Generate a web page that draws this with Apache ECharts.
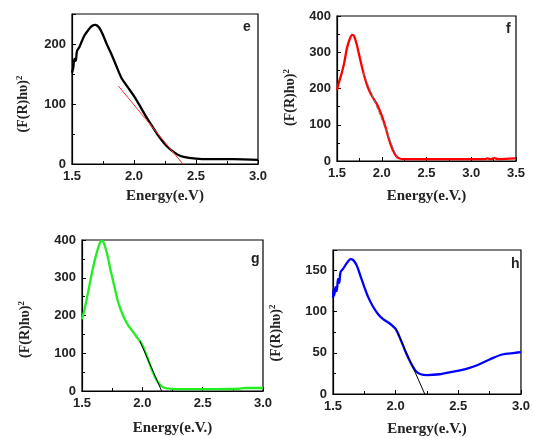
<!DOCTYPE html>
<html><head><meta charset="utf-8">
<script src="https://cdn.jsdelivr.net/npm/echarts@6/dist/echarts.min.js"></script>
<style>html,body{margin:0;padding:0;background:#fff}#c{width:533px;height:438px}</style>
</head><body><div id="c"></div>
<script>
// Panel e
const eX = [1.50,1.51,1.52,1.53,1.54,1.56,1.58,1.60,1.63,1.66,1.69,1.72,1.75,1.78,1.82,1.86,1.90,1.95,2.00,2.05,2.10,2.15,2.20,2.25,2.30,2.35,2.40,2.50,2.60,2.80,3.00];
const eY = [152,160,175,172,188,195,205,214,223,230,232,227,215,200,182,162,143,128,113,96,78,62,46,33,23,16,12,9,8,8,7];
const eFitX = [1.874,2.394];
const eFitY = [130,0];
// Panel f
const fX = [1.50,1.52,1.55,1.58,1.61,1.64,1.67,1.69,1.72,1.75,1.78,1.81,1.85,1.90,1.95,2.00,2.04,2.08,2.12,2.16,2.20,2.25,2.50,3.00,3.15,3.18,3.22,3.26,3.30,3.50];
const fY = [195,215,240,270,310,335,348,345,322,290,258,230,200,175,155,125,95,60,32,14,7,5,5,5,5,7,5,8,5,7];
const fFitX = [1.79,2.17];
const fFitY = [245,10];
// Panel g
const gX = [1.50,1.52,1.55,1.58,1.61,1.64,1.66,1.68,1.71,1.74,1.77,1.80,1.84,1.88,1.92,1.96,2.00,2.04,2.08,2.12,2.16,2.20,2.30,2.60,2.80,2.85,3.00];
const gY = [190,215,260,310,352,385,398,393,360,315,275,235,200,175,158,140,122,90,55,28,12,7,5,5,6,8,8];
const gFitX = [1.98,2.16];
const gFitY = [132,0];
// Panel h
const hX = [1.50,1.505,1.51,1.52,1.53,1.54,1.55,1.56,1.58,1.61,1.64,1.66,1.69,1.72,1.75,1.78,1.82,1.86,1.90,1.95,2.00,2.04,2.08,2.12,2.16,2.20,2.25,2.35,2.45,2.55,2.65,2.75,2.85,2.95,3.00];
const hY = [117,128,120,130,125,140,135,148,152,159,164,163,156,143,130,118,106,97,91,86,79,66,51,38,28,24,23,24,27,30,35,42,48,50,51];
const hFitX = [2.0,2.232];
const hFitY = [80,0];

const xNames = ['Energy(e.V)','Energy(e.V.)','Energy(e.V.)','Energy(e.V.)'];
const letters = ['e','f','g','h'];

const pair = (xs, ys) => xs.map((x, i) => [x, ys[i]]);

const grids = [
  {left:72, right:275, top:14, bottom:274},
  {left:337, right:17, top:16, bottom:277},
  {left:82, right:270, top:240, bottom:47},
  {left:333, right:12, top:250, bottom:42}
].map(g => Object.assign(g, {show:true, borderColor:'#000', borderWidth:1.2, backgroundColor:'transparent'}));

const xr = [[1.5,3.0],[1.5,3.5],[1.5,3.0],[1.5,3.0]];
const yr = [[0,250,100],[0,400,100],[0,400,100],[0,175,50]];
const xGap = [25,28,30,28];
const yGap = [40,38,48,48];
const yShift = [30,18,28,22];

const lbl = {fontFamily:'Liberation Sans, Arial', fontWeight:'bold', fontSize:13, color:'#222'};

const xAxis = xr.map((r, i) => ({
  type:'value', gridIndex:i, min:r[0], max:r[1], interval:0.5,
  name:xNames[i], nameLocation:'middle', nameGap:xGap[i],
  nameTextStyle:{fontFamily:'Liberation Serif, Times New Roman', fontWeight:'bold', fontSize:15, color:'#222'},
  axisLine:{show:true, lineStyle:{color:'#000', width:1.2}},
  axisTick:{show:true, inside:true, length:4, lineStyle:{color:'#000'}},
  minorTick:{show:true, splitNumber:2, length:3, lineStyle:{color:'#000'}},
  splitLine:{show:false},
  axisLabel:Object.assign({margin:6, formatter:v => v.toFixed(1)}, lbl)
}));

const yAxis = yr.map((r, i) => ({
  type:'value', gridIndex:i, min:r[0], max:r[1], interval:r[2],
  name:'{n|(F(R)hυ)}{s|2}', nameLocation:'middle', nameGap:yGap[i], nameRotate:90,
  nameTextStyle:{padding:[0, yShift[i], 0, 0], rich:{
    n:{fontFamily:'Liberation Serif, Times New Roman', fontWeight:'bold', fontSize:14, color:'#222'},
    s:{fontFamily:'Liberation Serif, Times New Roman', fontWeight:'bold', fontSize:9, color:'#222', verticalAlign:'top', padding:[0,0,8,0]}
  }},
  axisLine:{show:true, lineStyle:{color:'#000', width:1.2}},
  axisTick:{show:true, inside:true, length:4, lineStyle:{color:'#000'}},
  minorTick:{show:true, splitNumber:2, length:3, lineStyle:{color:'#000'}},
  splitLine:{show:false},
  axisLabel:Object.assign({margin:6, formatter:v => (v % r[2] === 0 ? String(v) : '')}, lbl)
}));

const curve = (i, data, color) => ({type:'line', xAxisIndex:i, yAxisIndex:i, data, showSymbol:false, smooth:0.3, lineStyle:{color, width:2.3}, z:3});
const fit = (i, data, color, type) => ({type:'line', xAxisIndex:i, yAxisIndex:i, data, showSymbol:false, lineStyle:{color, width:1, type:type||'solid'}, z:4});

const series = [
  curve(0, pair(eX,eY), '#000'), fit(0, pair(eFitX,eFitY), '#ff3333'),
  curve(1, pair(fX,fY), '#ff0000'), fit(1, pair(fFitX,fFitY), '#777', 'dashed'),
  curve(2, pair(gX,gY), '#22ee22'), fit(2, pair(gFitX,gFitY), '#000'),
  curve(3, pair(hX,hY), '#0000ff'), fit(3, pair(hFitX,hFitY), '#000')
];

const letterPos = [[243,20],[506,22],[251,252],[511,257]];
const graphic = letters.map((t, i) => ({type:'text', left:letterPos[i][0], top:letterPos[i][1],
  style:{text:t, font:'bold 14px Liberation Sans, Arial', fill:'#222'}}));

const chart = echarts.init(document.getElementById('c'), null, {renderer:'canvas'});
chart.setOption({animation:false, grid:grids, xAxis, yAxis, series, graphic});
</script></body></html>
